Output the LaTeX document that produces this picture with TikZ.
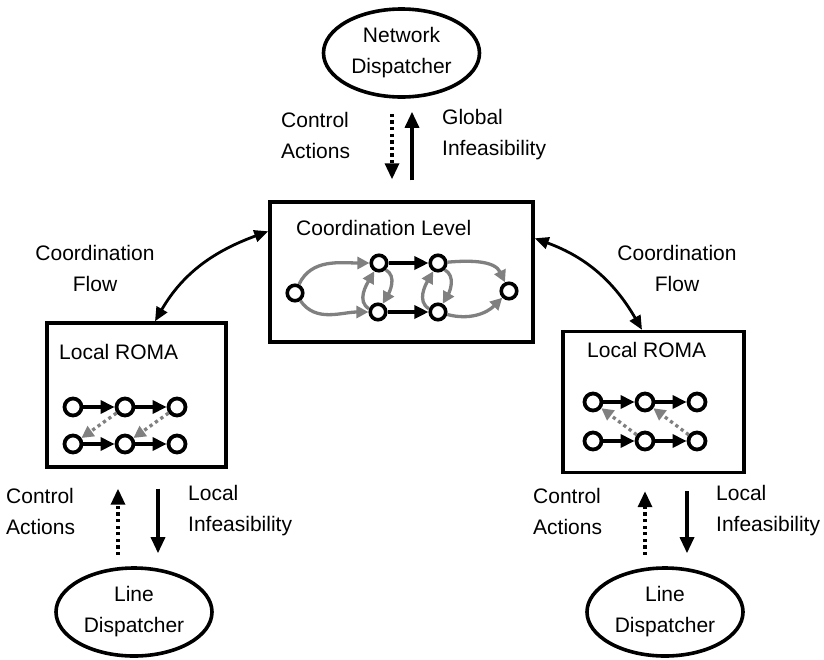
\documentclass[tikz,border=0pt]{standalone}
\usepackage{fontspec}
\setmainfont{Liberation Sans}
\usetikzlibrary{arrows.meta,shapes.geometric}
\begin{document}
\begin{tikzpicture}[x=1pt,y=1pt,
  every node/.style={font=\fontsize{21}{31}\selectfont},
  lbl/.style={align=left, anchor=west, inner sep=0},
  clbl/.style={align=center, inner sep=0},
  disp/.style={draw, line width=3.6pt, ellipse, minimum width=156pt, minimum height=88pt, align=center, inner sep=0},
  box/.style={draw, line width=3.4pt, inner sep=0},
  st/.style={draw, circle, line width=3.6pt, minimum size=15.5pt, inner sep=0},
  sst/.style={draw, circle, line width=3.8pt, minimum size=17pt, inner sep=0},
  bigarr/.style={line width=3.3pt, -{Triangle[length=16pt,width=14pt]}},
  dotarr/.style={bigarr, dash pattern=on 3.3pt off 3.3pt},
  blk/.style={line width=3.3pt, -{Triangle[length=14pt,width=13pt]}},
  gr/.style={line width=3.3pt, draw=gray, -{Triangle[length=12pt,width=12pt,fill=gray,color=gray]}},
  grdot/.style={gr, dash pattern=on 3.3pt off 3.3pt},
  flow/.style={line width=2.8pt, {Triangle[length=14pt,width=12pt]}-{Triangle[length=14pt,width=12pt]}}
]
\useasboundingbox (0,0) rectangle (824,-659);

% dispatchers
\node[disp] (net) at (401.5,-53) {Network\\Dispatcher};
\node[disp] (ld) at (134,-612) {Line\\Dispatcher};
\node[disp] (rd) at (665,-612) {Line\\Dispatcher};

% boxes
\node[box, minimum width=263pt, minimum height=140pt] (coord) at (401.5,-272) {};
\node[box, minimum width=179pt, minimum height=144pt] (lbox) at (136.5,-395) {};
\node[box, minimum width=181pt, minimum height=141pt] (rbox) at (653.5,-402) {};

% titles
\node[lbl] (tcoord) at (296,-228) {Coordination Level};
\node[lbl] (tlroma) at (59,-352) {Local ROMA};
\node[lbl] (trroma) at (587,-350) {Local ROMA};

% labels
\node[lbl] (ca1) at (281,-135) {Control\\Actions};
\node[lbl] (gi) at (442,-135) {Global\\Infeasibility};
\node[clbl] (cf1) at (95,-268) {Coordination\\Flow};
\node[clbl] (cf2) at (677,-268) {Coordination\\Flow};
\node[lbl] (ca2) at (6,-511) {Control\\Actions};
\node[lbl] (li1) at (188,-511) {Local\\Infeasibility};
\node[lbl] (ca3) at (533,-511) {Control\\Actions};
\node[lbl] (li2) at (716,-511) {Local\\Infeasibility};

% vertical arrows
\draw[dotarr] ([xshift=-9.5pt,yshift=-15pt]net.south) -- ([xshift=-9.5pt,yshift=21pt]coord.north);
\draw[bigarr] ([xshift=10.5pt,yshift=20pt]coord.north) -- ([xshift=10.5pt,yshift=-13pt]net.south);
\draw[dotarr] ([xshift=-16pt,yshift=11pt]ld.north) -- ([xshift=-18.5pt,yshift=-20pt]lbox.south);
\draw[bigarr] ([xshift=21.5pt,yshift=-20pt]lbox.south) -- ([xshift=24pt,yshift=13pt]ld.north);
\draw[dotarr] ([xshift=-20pt,yshift=11pt]rd.north) -- ([xshift=-8.5pt,yshift=-17pt]rbox.south);
\draw[bigarr] ([xshift=33.5pt,yshift=-17pt]rbox.south) -- ([xshift=22pt,yshift=13pt]rd.north);

% coordination flows
\draw[flow] ([xshift=18.5pt]lbox.north) to[out=60,in=200] ([yshift=-31pt]coord.north west);
\draw[flow] ([yshift=-38pt]coord.north east) to[out=-20,in=120] ([xshift=-11.5pt]rbox.north);

% coordination graph
\node[st] (c0) at (295,-293) {};
\node[st] (c1) at (379,-263) {};
\node[st] (c2) at (438,-263) {};
\node[st] (c3) at (378,-312) {};
\node[st] (c4) at (438,-312) {};
\node[st] (c5) at (509,-291) {};
\draw[blk] (c1) -- (c2);
\draw[blk] (c3) -- (c4);
\draw[gr] (c0) to[out=65,in=180] (c1);
\draw[gr] (c0) to[out=-55,in=180] (c3);
\draw[gr] (c1.-45) to[out=-30,in=60] (c3.60);
\draw[gr] (c3.160) to[out=150,in=-120] (c1.-120);
\draw[gr] (c2.-45) to[out=-30,in=60] (c4.60);
\draw[gr] (c4.160) to[out=150,in=-120] (c2.-120);
\draw[gr] (c2) to[out=5,in=115] (c5);
\draw[gr] (c4) to[out=-15,in=-135] (c5);

% left local ROMA
\node[sst] (L1) at (73,-407) {};
\node[sst] (L2) at (125,-407) {};
\node[sst] (L3) at (177,-407) {};
\node[sst] (L4) at (73,-444) {};
\node[sst] (L5) at (125,-444) {};
\node[sst] (L6) at (177,-444) {};
\draw[blk] (L1) -- (L2);
\draw[blk] (L2) -- (L3);
\draw[blk] (L4) -- (L5);
\draw[blk] (L5) -- (L6);
\draw[grdot] (L2) -- (L4);
\draw[grdot] (L3) -- (L5);

% right local ROMA
\node[sst] (R1) at (593,-402) {};
\node[sst] (R2) at (645,-402) {};
\node[sst] (R3) at (697,-402) {};
\node[sst] (R4) at (593,-441) {};
\node[sst] (R5) at (645,-441) {};
\node[sst] (R6) at (697,-441) {};
\draw[blk] (R1) -- (R2);
\draw[blk] (R2) -- (R3);
\draw[blk] (R4) -- (R5);
\draw[blk] (R5) -- (R6);
\draw[grdot] (R5) -- (R1);
\draw[grdot] (R6) -- (R2);
\end{tikzpicture}
\end{document}
